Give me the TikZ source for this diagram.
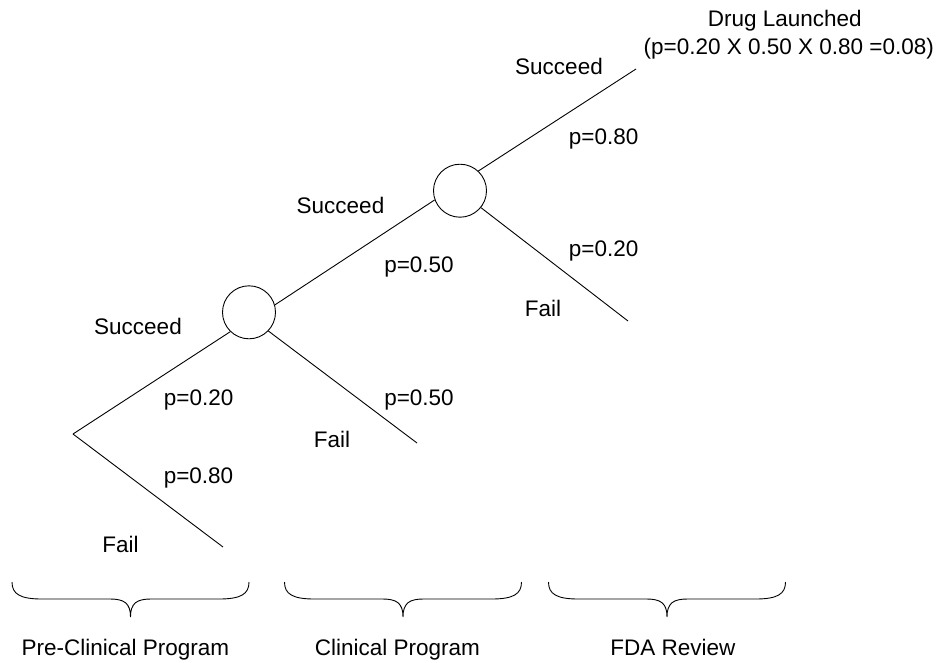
\documentclass[tikz,border=0pt]{standalone}
\usepackage{fontspec}
\setmainfont{Liberation Sans}
\begin{document}
\begin{tikzpicture}[x=1pt,y=-1pt,
  lbl/.style={font=\fontsize{22.5}{27}\selectfont, inner sep=0pt, anchor=base},
  chance/.style={draw, circle, minimum size=53pt, inner sep=0pt, line width=0.9pt},
  branch/.style={line width=0.9pt},
  mybrace/.pic={\draw[line width=0.9pt] (0,0) .. controls (0,12) and (8,17) .. (30,17) -- (98,17)
     .. controls (112,17) and (118.5,21) .. (118.5,35)
     .. controls (118.5,21) and (125,17) .. (139,17) -- (207,17)
     .. controls (229,17) and (237,12) .. (237,0);}]
\useasboundingbox (0,0) rectangle (943,662);
\fill[white] (0,0) rectangle (943,662);

% tree
\coordinate (root) at (73,434);
\node[chance] (c1) at (249,312.3) {};
\node[chance] (c2) at (460,190.7) {};
\coordinate (e1) at (223,547);
\coordinate (e2) at (417,443);
\coordinate (e3) at (636,69);
\coordinate (e4) at (628,321);

\draw[branch] (root) -- (c1.226);
\draw[branch] (root) -- (e1);
\draw[branch] (c1.16) -- (c2.200);
\draw[branch] (c1.-44) -- (e2);
\draw[branch] (c2.47) -- (e3);
\draw[branch] (c2.-39) -- (e4);

% labels
\node[lbl] (dl1) at (784.7,26.7) {Drug Launched};
\node[lbl] (dl2) at (788.8,54.3) {(p=0.20 X 0.50 X 0.80 =0.08)};
\node[lbl] (s3) at (559,74) {Succeed};
\node[lbl] (p3a) at (603.7,144) {p=0.80};
\node[lbl] (p3b) at (603.7,256) {p=0.20};
\node[lbl] (f3) at (543,316.7) {Fail};
\node[lbl] (s2) at (340.5,213.3) {Succeed};
\node[lbl] (p2a) at (419,272.7) {p=0.50};
\node[lbl] (s1) at (138,334.3) {Succeed};
\node[lbl] (p1a) at (198.7,405) {p=0.20};
\node[lbl] (p2b) at (419,405) {p=0.50};
\node[lbl] (f2) at (332,447.3) {Fail};
\node[lbl] (p1b) at (198.5,483.3) {p=0.80};
\node[lbl] (f1) at (120.5,552.7) {Fail};

% braces
\pic at (12,582) {mybrace};
\pic at (284.5,582) {mybrace};
\pic at (548.5,582) {mybrace};

\node[lbl] (ph1) at (125.5,655) {Pre-Clinical Program};
\node[lbl] (ph2) at (397.5,655) {Clinical Program};
\node[lbl] (ph3) at (673,655) {FDA Review};
\end{tikzpicture}
\end{document}
